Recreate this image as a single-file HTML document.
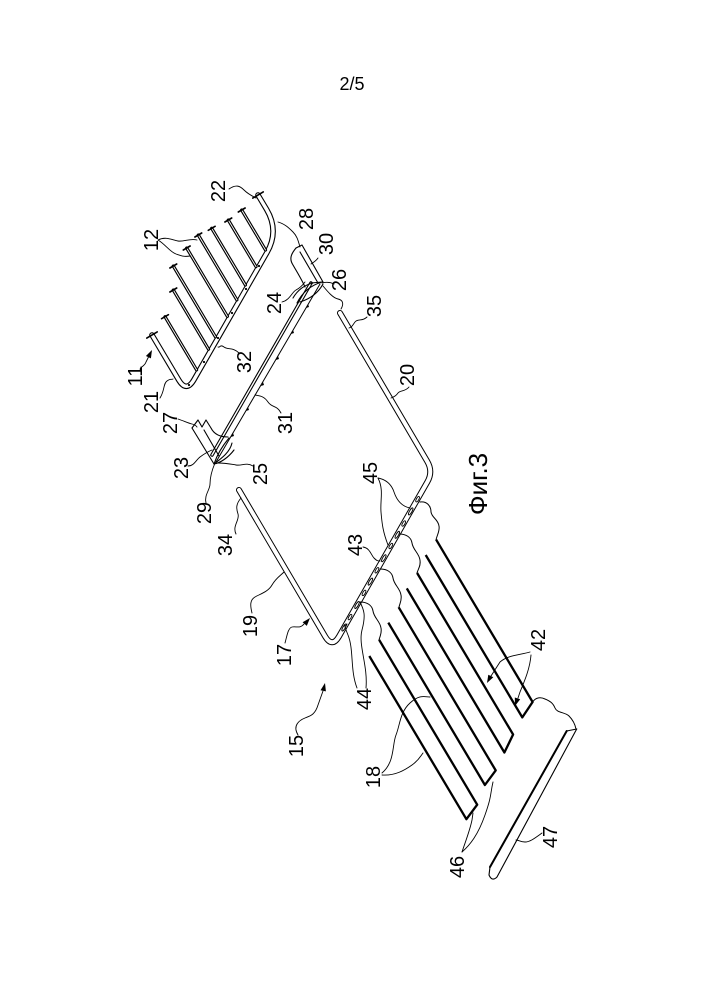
<!DOCTYPE html>
<html>
<head>
<meta charset="utf-8">
<style>
  html,body{margin:0;padding:0;background:#fff;}
  svg{display:block;}
  text{font-family:"Liberation Sans","DejaVu Sans",sans-serif;fill:#000;}
  .lbl{font-size:20px;text-anchor:middle;}
</style>
</head>
<body>
<svg width="706" height="999" viewBox="0 0 706 999" xmlns="http://www.w3.org/2000/svg">
<rect width="706" height="999" fill="#fff"/>

<text x="352" y="90" style="font-size:18px;text-anchor:middle">2/5</text>
<text transform="translate(487,484) rotate(-90)" style="font-size:26px;text-anchor:middle">Фиг.3</text>

<g fill="none" stroke-linecap="round" stroke-linejoin="round">
  <!-- comb rod (11 / 21 / 32 / 22) -->
  <path d="M152,335 L178.7,379.9 Q186.4,392.8 193.9,379.8 L266.9,252.6 Q279.4,230.9 266.6,209.4 L258,195" stroke="#000" stroke-width="5.6"/>
  <path d="M152,335 L178.7,379.9 Q186.4,392.8 193.9,379.8 L266.9,252.6 Q279.4,230.9 266.6,209.4 L258,195" stroke="#fff" stroke-width="3.4"/>
  <line x1="146.8" y1="338.1" x2="157.2" y2="331.9" stroke="#000" stroke-width="1.6"/>
  <line x1="252.8" y1="198.1" x2="263.2" y2="191.9" stroke="#000" stroke-width="1.6"/>

  <!-- teeth 12 -->
  <g>
    <path d="M165,316.7 L196.6,369.9 M173.3,290 L208.5,349.2 M173.3,266 L215.5,336.9 M186.7,248 L227.4,316.4 M198.3,235 L236.9,299.9 M211.7,228.3 L245.4,285 M228.3,220 L256,266.6 M241.7,210 L265.5,250" stroke="#000" stroke-width="3.2"/>
    <path d="M165,316.7 L196.6,369.9 M173.3,290 L208.5,349.2 M173.3,266 L215.5,336.9 M186.7,248 L227.4,316.4 M198.3,235 L236.9,299.9 M211.7,228.3 L245.4,285 M228.3,220 L256,266.6 M241.7,210 L265.5,250" stroke="#fff" stroke-width="0.9"/>
    <path d="M161.6,318.7 L168.4,314.7 M169.9,292 L176.7,288 M169.9,268 L176.7,264 M183.3,250 L190.1,246 M194.9,237 L201.7,233 M208.3,230.3 L215.1,226.3 M224.9,222 L231.7,218 M238.3,212 L245.1,208" stroke="#000" stroke-width="1.6"/>
  </g>
  <!-- small marks on rod 32 -->
  <g fill="#000" stroke="none">
    <circle cx="204" cy="362" r="1.1"/><circle cx="218" cy="338" r="1.1"/><circle cx="232" cy="313" r="1.1"/>
    <circle cx="246" cy="289" r="1.1"/><circle cx="259" cy="266" r="1.1"/><circle cx="189" cy="385" r="1.1"/>
  </g>

  <!-- rod 31 (upper frame) -->
  <path d="M212,455 L311,283" stroke="#000" stroke-width="3.6"/>
  <path d="M212,455 L311,283" stroke="#fff" stroke-width="1.4"/>
  <path d="M216,462 L320,284" stroke="#000" stroke-width="1"/>
  <g fill="#000" stroke="none">
    <path d="M231,437 l2,-4 l1,3 z"/><path d="M246,411 l2,-4 l1,3 z"/><path d="M261,386 l2,-4 l1,3 z"/>
    <path d="M276,360 l2,-4 l1,3 z"/><path d="M291,334 l2,-4 l1,3 z"/><path d="M306,308 l2,-4 l1,3 z"/>
  </g>

  <!-- top tab 28 / 30 / 24 / 26 -->
  <g stroke="#000" stroke-width="1.1">
    <path d="M296,248 L302,245 L323,282"/>
    <path d="M296,248 C291,254 289,259 293,265 C297,272 302,280 305,287"/>
    <path d="M300,252 L318,283"/>
    <path d="M297,303 Q305,287 322,282"/>
    <path d="M300,302 Q316,297 323,284"/>
    <path d="M293,298 Q300,286 313,283"/>
    <path d="M311,283 L322,282"/>
  </g>

  <!-- bottom tab 27 / 23 / 29 / 25 -->
  <g stroke="#000" stroke-width="1.1">
    <path d="M192,428 L198,420 L202,427 L206,420 L211,428 C214,434 220,437 228,437"/>
    <path d="M192,428 L214,464"/>
    <path d="M204,430 L219,456"/>
    <path d="M214,464 C218,452 224,444 229,438"/>
    <path d="M214,464 C222,458 230,452 232,443"/>
    <path d="M214,464 C220,463 228,458 234,450"/>
  </g>

  <!-- lower frame rod 19 / 43 / 20 -->
  <path d="M239,490 L325,636.2 Q332.1,648.3 339.1,636.2 L427.3,482 Q433.3,471.6 427.2,461.3 L340,313" stroke="#000" stroke-width="6"/>
  <path d="M239,490 L325,636.2 Q332.1,648.3 339.1,636.2 L427.3,482 Q433.3,471.6 427.2,461.3 L340,313" stroke="#fff" stroke-width="4"/>
  <!-- beads on rod 43 -->
  <g stroke="#000" stroke-width="0.9">
    <ellipse cx="344.1" cy="627.5" rx="4" ry="1.2" transform="rotate(-60.2 344.1 627.5)"/>
    <ellipse cx="350" cy="617.1" rx="3" ry="1.2" transform="rotate(-60.2 350 617.1)"/>
    <ellipse cx="357" cy="605" rx="4" ry="1.2" transform="rotate(-60.2 357 605)"/>
    <ellipse cx="364" cy="592.9" rx="3" ry="1.2" transform="rotate(-60.2 364 592.9)"/>
    <ellipse cx="370.4" cy="581.6" rx="4" ry="1.2" transform="rotate(-60.2 370.4 581.6)"/>
    <ellipse cx="376.9" cy="570.3" rx="3" ry="1.2" transform="rotate(-60.2 376.9 570.3)"/>
    <ellipse cx="383.8" cy="558.2" rx="4" ry="1.2" transform="rotate(-60.2 383.8 558.2)"/>
    <ellipse cx="390.8" cy="546" rx="3" ry="1.2" transform="rotate(-60.2 390.8 546)"/>
    <ellipse cx="397.3" cy="534.8" rx="4" ry="1.2" transform="rotate(-60.2 397.3 534.8)"/>
    <ellipse cx="403.7" cy="523.5" rx="3" ry="1.2" transform="rotate(-60.2 403.7 523.5)"/>
    <ellipse cx="410.7" cy="511.4" rx="4" ry="1.2" transform="rotate(-60.2 410.7 511.4)"/>
    <ellipse cx="417.6" cy="499.2" rx="3" ry="1.2" transform="rotate(-60.2 417.6 499.2)"/>
  </g>

  <!-- torn edges from rod 43 to strips -->
  <g stroke="#000" stroke-width="1">
    <path d="M420,502 C427,501 431,506 431,512 C432,518 438,519 439,526 C440,531 437,535 436,540"/>
    <path d="M399,534 C406,534 411,537 412,543 C413,550 419,553 420,560 C421,566 418,569 417,573"/>
    <path d="M380,569 C387,569 392,572 393,578 C394,585 400,588 401,595 C402,600 400,603 399,607"/>
    <path d="M360,602 C367,602 372,605 373,611 C374,618 380,621 381,628 C382,633 380,636 379,640"/>
  </g>

  <!-- strips 18 / 42 -->
  <g stroke="#000" stroke-width="2.3" stroke-linecap="butt">
    <path d="M369.3,656 L466.4,819.2 L477.2,804.7 L379.1,639.8"/>
    <path d="M388.3,622.6 L484.9,785 L495.7,770.4 L398.6,607.2"/>
    <path d="M406.8,588.4 L504.4,752.5 L513.1,734.5 L417.1,573"/>
    <path d="M425.7,555 L522.3,717.4 L532.6,702 L436.1,539.6"/>
  </g>

  <!-- torn edge to bar 47 -->
  <path d="M532.6,702 C536,697 541,697 545,699 C550,701 553,703 555,708 C557,713 565,712 569,716 C573,720 575,724 576,729" stroke="#000" stroke-width="1"/>

  <!-- bar 47 -->
  <path d="M576.7,729 L497,877 Q492,882 489,875 L490,867" stroke="#000" stroke-width="1.1"/>
  <path d="M566.7,731 L576.7,729" stroke="#000" stroke-width="1.1"/>
  <path d="M566.7,731 L490,867" stroke="#000" stroke-width="2"/>

  <!-- leaders -->
  <g stroke="#000" stroke-width="0.9">
    <path d="M229,189 C236,184 240,186 244,190 S252,196 256,198"/>
    <path d="M158,240 C166,236 172,240 178,241 S190,238 197,240"/>
    <path d="M158,240 C165,244 170,252 176,254 S184,257 190,256"/>
    <path d="M278,222 C285,224 289,228 293,232 S298,240 300,247"/>
    <path d="M318,258 C316,261 314,262 311,264"/>
    <path d="M334,284 C330,282 326,282 322,283"/>
    <path d="M323,286 C328,292 333,298 338,299 S344,304 341,309"/>
    <path d="M282,302 C290,300 292,292 296,290 S302,286 305,282"/>
    <path d="M367,317 C362,322 358,318 355,322 S352,327 349,328"/>
    <path d="M409,387 C405,392 400,390 398,393 S394,397 391,398"/>
    <path d="M141,372 C138,366 144,368 146,362 L149,356"/>
    <path d="M160,398 C165,390 163,384 167,381 S171,380 173,379"/>
    <path d="M239,353 C233,347 228,350 224,347 S220,348 218,347"/>
    <path d="M178,419 C184,421 188,423 192,424 S196,426 197,427"/>
    <path d="M188,466 C194,466 196,460 200,457 S207,452 212,450"/>
    <path d="M206,503 C204,495 210,490 210,484 S212,470 215,463"/>
    <path d="M253,466 C246,462 242,466 236,465 S226,463 218,463"/>
    <path d="M281,413 C277,405 272,408 268,402 S260,396 255,395"/>
    <path d="M236,534 C232,526 240,520 238,514 S236,504 241,498"/>
    <path d="M378,478 C388,480 392,486 394,492 S400,506 410,508"/>
    <path d="M378,478 C384,490 380,500 381,512 S383,532 388,545"/>
    <path d="M363,547 C370,548 371,555 374,558 S378,561 380,561"/>
    <path d="M252,613 C250,605 250,600 255,597 S268,592 272,585 S280,576 284,572"/>
    <path d="M285,643 C287,636 288,628 292,627 S300,629 304,624"/>
    <path d="M357,688 C350,670 354,650 348,635 S346,628 347,624"/>
    <path d="M366,688 C368,665 358,645 362,630 S364,610 360,602"/>
    <path d="M298,735 C292,725 300,720 305,718 S315,715 318,705 L323,691"/>
    <path d="M530,652 C520,655 508,655 500,662 L491,676"/>
    <path d="M531,655 C530,668 525,680 520,692 L518,698"/>
    <path d="M382,773 C395,762 392,745 396,735 S400,712 410,703 S425,697 430,697"/>
    <path d="M382,775 C395,776 405,770 412,765 S420,757 423,753"/>
    <path d="M462,852 C466,840 470,830 472,820 L473,813"/>
    <path d="M462,852 C470,845 478,835 485,815 S490,795 493,782"/>
    <path d="M542,833 C535,838 530,842 525,842 S519,840 516,840"/>
  </g>
</g>

<!-- arrowheads -->
<g fill="#000">
  <polygon points="152,350 150.9,358.4 145.9,356"/>
  <polygon points="310,618 306.8,625.9 302.6,622.2"/>
  <polygon points="325,683 325.9,691.4 320.5,690.2"/>
  <polygon points="487,683 493.3,677.3 488.3,674.7"/>
  <polygon points="515,706 520.2,699.3 514.8,697.5"/>
</g>

<!-- labels -->
<g class="lbl">
  <text class="lbl" transform="translate(225,191) rotate(-90)">22</text>
  <text class="lbl" transform="translate(158,240) rotate(-90)">12</text>
  <text class="lbl" transform="translate(313,219) rotate(-90)">28</text>
  <text class="lbl" transform="translate(333,244) rotate(-90)">30</text>
  <text class="lbl" transform="translate(346,280) rotate(-90)">26</text>
  <text class="lbl" transform="translate(281,303) rotate(-90)">24</text>
  <text class="lbl" transform="translate(381,306) rotate(-90)">35</text>
  <text class="lbl" transform="translate(414,375) rotate(-90)">20</text>
  <text class="lbl" transform="translate(142,376) rotate(-90)">11</text>
  <text class="lbl" transform="translate(158,402) rotate(-90)">21</text>
  <text class="lbl" transform="translate(251,362) rotate(-90)">32</text>
  <text class="lbl" transform="translate(177,423) rotate(-90)">27</text>
  <text class="lbl" transform="translate(292,423) rotate(-90)">31</text>
  <text class="lbl" transform="translate(188,468) rotate(-90)">23</text>
  <text class="lbl" transform="translate(267,474) rotate(-90)">25</text>
  <text class="lbl" transform="translate(211,513) rotate(-90)">29</text>
  <text class="lbl" transform="translate(232,545) rotate(-90)">34</text>
  <text class="lbl" transform="translate(377,473) rotate(-90)">45</text>
  <text class="lbl" transform="translate(362,545) rotate(-90)">43</text>
  <text class="lbl" transform="translate(257,626) rotate(-90)">19</text>
  <text class="lbl" transform="translate(291,655) rotate(-90)">17</text>
  <text class="lbl" transform="translate(371,699) rotate(-90)">44</text>
  <text class="lbl" transform="translate(303,746) rotate(-90)">15</text>
  <text class="lbl" transform="translate(545,640) rotate(-90)">42</text>
  <text class="lbl" transform="translate(380,777) rotate(-90)">18</text>
  <text class="lbl" transform="translate(464,867) rotate(-90)">46</text>
  <text class="lbl" transform="translate(557,837) rotate(-90)">47</text>
</g>
</svg>
</body>
</html>
